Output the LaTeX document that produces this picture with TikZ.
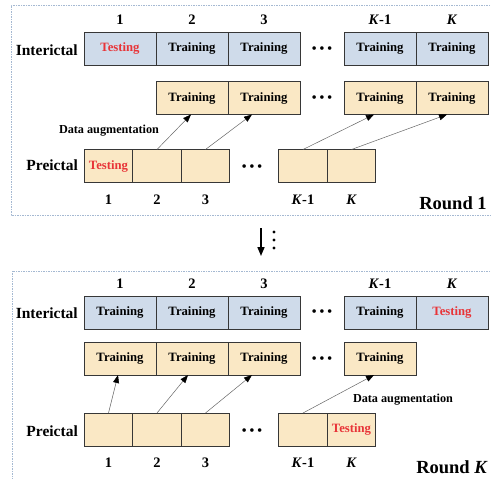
\documentclass[tikz,border=0pt]{standalone}
\usepackage{fontspec}
\setmainfont{Liberation Serif}
\usetikzlibrary{
    arrows.meta,
    positioning
}
\definecolor{interblue}{RGB}{207,219,234}
\definecolor{preyellow}{RGB}{250,232,197}
\definecolor{testred}{RGB}{232,52,56}
\definecolor{framegray}{RGB}{165,185,210}
\definecolor{boxborder}{RGB}{55,55,55}
\tikzset{
    % Boxes
    seg box/.style={rectangle,draw=boxborder,line width=0.9pt,minimum height=33pt,inner sep=0pt,outer sep=0pt,font=\fontsize{12.7}{12.7}\selectfont\bfseries},
    inter box/.style={seg box,fill=interblue,minimum width=72pt},
    aug box/.style={seg box,fill=preyellow,minimum width=72pt},
    pre box/.style={seg box,fill=preyellow,minimum width=48.5pt},
    testing/.style={text=testred},
    %
    % Labels
    row label/.style={font=\fontsize{15.5}{15.5}\selectfont\bfseries,anchor=east,inner sep=0pt},
    idx label/.style={font=\fontsize{14.5}{14.5}\selectfont\bfseries,inner sep=1pt},
    round label/.style={font=\fontsize{18.5}{18.5}\selectfont\bfseries},
    aug label/.style={font=\fontsize{12.2}{12.2}\selectfont\bfseries},
    dots/.style={font=\fontsize{15}{15}\selectfont,inner sep=0pt},
    %
    % Arrows and frames
    aug arrow/.style={-{Triangle[length=8pt,width=6pt,color=black]},draw=gray!80!black,line width=0.5pt},
    frame line/.style={draw=framegray,line width=0.6pt,dash pattern=on 1.5pt off 1pt}
}
\newcommand{\threedots}{•\hspace{2.5pt}•\hspace{2.5pt}•}

\begin{document}
\begin{tikzpicture}[x=1pt,y=-1pt]
    \useasboundingbox (0,0) rectangle (491,479);
    % Round 1
    \draw[frame line] (495,5) -- (11,5) -- (11,215) -- (495,215);
    \node[inter box,testing] (a-i1) at (120,48.5) {Testing};
    \node[inter box,right=0pt of a-i1] (a-i2) {Training};
    \node[inter box,right=0pt of a-i2] (a-i3) {Training};
    \node[inter box] (a-iK1) at (380,48.5) {Training};
    \node[inter box,right=0pt of a-iK1] (a-iK) {Training};
    \node[aug box] (a-m2) at (192,98) {Training};
    \node[aug box,right=0pt of a-m2] (a-m3) {Training};
    \node[aug box] (a-mK1) at (380,98) {Training};
    \node[aug box,right=0pt of a-mK1] (a-mK) {Training};
    \node[pre box,testing] (a-p1) at (108.5,166) {Testing};
    \node[pre box,right=0pt of a-p1] (a-p2) {};
    \node[pre box,right=0pt of a-p2] (a-p3) {};
    \node[pre box] (a-pK1) at (303,166) {};
    \node[pre box,right=0pt of a-pK1] (a-pK) {};
    \node[row label] (a-int) at (78,50) {Interictal};
    \node[row label] (a-pre) at (78,165) {Preictal};
    \node[dots] (a-d1) at (322,50.5) {\threedots};
    \node[dots] (a-d2) at (322,99.5) {\threedots};
    \node[dots] (a-d3) at (252,168.5) {\threedots};
    \node[idx label,above=6pt of a-i1] (a-n1) {1};
    \node[idx label,above=6pt of a-i2] (a-n2) {2};
    \node[idx label,above=6pt of a-i3] (a-n3) {3};
    \node[idx label,above=6pt of a-iK1] (a-nK1) {\textit{K}-1};
    \node[idx label,above=6pt of a-iK] (a-nK) {\textit{K}};
    \node[idx label,below=11pt of a-p1] (a-b1) {1};
    \node[idx label,below=11pt of a-p2] (a-b2) {2};
    \node[idx label,below=11pt of a-p3] (a-b3) {3};
    \node[idx label,below=11pt of a-pK1] (a-bK1) {\textit{K}-1};
    \node[idx label,below=11pt of a-pK] (a-bK) {\textit{K}};
    \node[aug label] (a-aug) at (109,131) {Data augmentation};
    \node[round label] (a-round) at (453,203) {Round 1};
    \draw[aug arrow] (a-p2.north) -- ([xshift=-1pt]a-m2.south);
    \draw[aug arrow] (a-p3.north) -- ([xshift=-12pt]a-m3.south);
    \draw[aug arrow] (a-pK1.north) -- ([xshift=-6pt]a-mK1.south);
    \draw[aug arrow] (a-pK.north) -- ([xshift=-5pt]a-mK.south);
    % Between the rounds
    \coordinate (down-top) at (261,228);
    \coordinate (down-end) at (261,256);
    \draw[-{Triangle[length=9pt,width=7pt]},line width=1.6pt] (down-top) -- (down-end);
    \foreach \y in {232,240,248}
        \fill (274,\y) circle (1.6pt);
    % Round K
    \draw[frame line] (495,271) -- (12,271) -- (12,485);
    \node[inter box] (b-i1) at (120,312.5) {Training};
    \node[inter box,right=0pt of b-i1] (b-i2) {Training};
    \node[inter box,right=0pt of b-i2] (b-i3) {Training};
    \node[inter box] (b-iK1) at (380,312.5) {Training};
    \node[inter box,right=0pt of b-iK1,testing] (b-iK) {Testing};
    \node[aug box] (b-m1) at (120,358.5) {Training};
    \node[aug box,right=0pt of b-m1] (b-m2) {Training};
    \node[aug box,right=0pt of b-m2] (b-m3) {Training};
    \node[aug box] (b-mK1) at (380,358.5) {Training};
    \node[pre box] (b-p1) at (108.5,429.5) {};
    \node[pre box,right=0pt of b-p1] (b-p2) {};
    \node[pre box,right=0pt of b-p2] (b-p3) {};
    \node[pre box] (b-pK1) at (303,429.5) {};
    \node[pre box,right=0pt of b-pK1,testing] (b-pK) {Testing};
    \node[row label] (b-int) at (78,313) {Interictal};
    \node[row label] (b-pre) at (78,431) {Preictal};
    \node[dots] (b-d1) at (322,313.5) {\threedots};
    \node[dots] (b-d2) at (322,360.5) {\threedots};
    \node[dots] (b-d3) at (252,432.5) {\threedots};
    \node[idx label,above=6pt of b-i1] (b-n1) {1};
    \node[idx label,above=6pt of b-i2] (b-n2) {2};
    \node[idx label,above=6pt of b-i3] (b-n3) {3};
    \node[idx label,above=6pt of b-iK1] (b-nK1) {\textit{K}-1};
    \node[idx label,above=6pt of b-iK] (b-nK) {\textit{K}};
    \node[idx label,below=11pt of b-p1] (b-b1) {1};
    \node[idx label,below=11pt of b-p2] (b-b2) {2};
    \node[idx label,below=11pt of b-p3] (b-b3) {3};
    \node[idx label,below=11pt of b-pK1] (b-bK1) {\textit{K}-1};
    \node[idx label,below=11pt of b-pK] (b-bK) {\textit{K}};
    \node[aug label] (b-aug) at (403,400) {Data augmentation};
    \node[round label] (b-round) at (452,467) {Round \textit{K}};
    \draw[aug arrow] (b-p1.north) -- ([xshift=-2pt]b-m1.south);
    \draw[aug arrow] (b-p2.north) -- ([xshift=-4pt]b-m2.south);
    \draw[aug arrow] (b-p3.north) -- ([xshift=-12pt]b-m3.south);
    \draw[aug arrow] (b-pK1.north) -- ([xshift=-6pt]b-mK1.south);
\end{tikzpicture}
\end{document}
